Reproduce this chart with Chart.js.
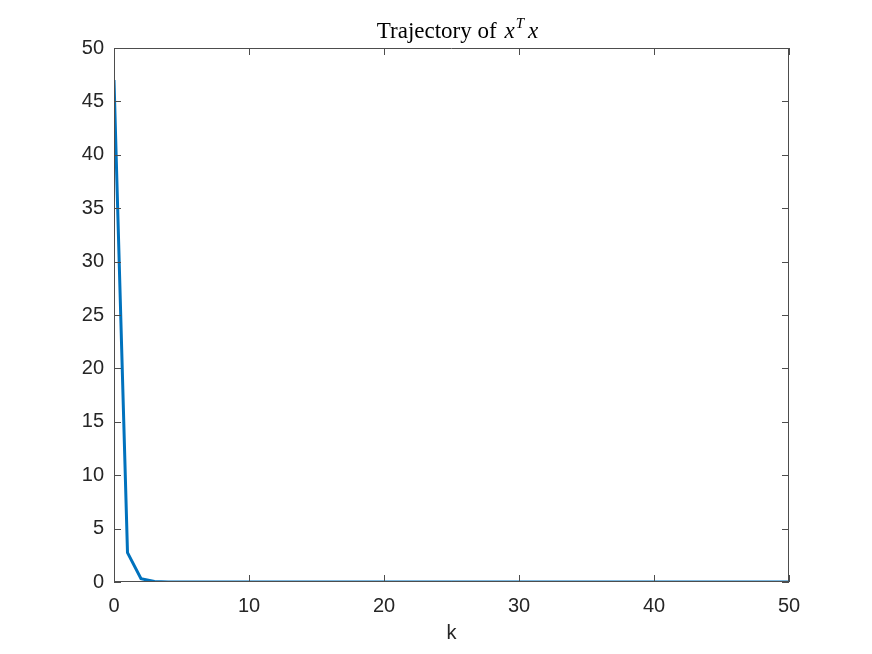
<!DOCTYPE html>
<html>
<head>
<meta charset="utf-8">
<script src="https://cdn.jsdelivr.net/npm/chart.js@4/dist/chart.umd.min.js"></script>
<style>
    html, body { margin: 0; padding: 0; background: #ffffff; }
    #wrap { width: 872px; height: 654px; }
</style>
</head>
<body>
<div id="wrap"><canvas id="chart_xtx" width="872" height="654"></canvas></div>
<script>
"use strict";

// Chart data
const steps = [0, 1, 2, 3, 4, 5, 6, 7, 8, 9, 10, 11, 12, 13, 14, 15, 16, 17, 18, 19, 20,
    21, 22, 23, 24, 25, 26, 27, 28, 29, 30, 31, 32, 33, 34, 35, 36, 37, 38, 39, 40,
    41, 42, 43, 44, 45, 46, 47, 48, 49, 50];
const xtx = [47.0, 2.75, 0.30, 0.04, 0.006, 0.001, 0.0002, 0.00003, 0.000005, 0.000001, 0,
    0, 0, 0, 0, 0, 0, 0, 0, 0, 0,
    0, 0, 0, 0, 0, 0, 0, 0, 0, 0,
    0, 0, 0, 0, 0, 0, 0, 0, 0, 0,
    0, 0, 0, 0, 0, 0, 0, 0, 0, 0];
const xTicks = [0, 10, 20, 30, 40, 50];
const yTicks = [0, 5, 10, 15, 20, 25, 30, 35, 40, 45, 50];

// Define colors
var lineColor = '#0072BD';
var axisColor = '#262626';
var fontFamily = '"Liberation Sans", Arial, Helvetica, sans-serif';

// Box with inward ticks on all four sides, MATLAB style
var boxPlugin = {
    id: 'matlabBox',
    afterDatasetsDraw: function (chart) {
        var c = chart.ctx, a = chart.chartArea;
        var xs = chart.scales.x, ys = chart.scales.y;
        var len = 7;
        c.save();
        c.strokeStyle = '#4d4d4d';
        c.lineWidth = 1;
        c.beginPath();
        c.rect(a.left + 0.5, a.top + 0.5, a.right - a.left - 1, a.bottom - a.top - 1);
        xTicks.forEach(function (v) {
            var px = Math.round(xs.getPixelForValue(v)) + 0.5;
            c.moveTo(px, a.bottom); c.lineTo(px, a.bottom - len);
            c.moveTo(px, a.top); c.lineTo(px, a.top + len);
        });
        yTicks.forEach(function (v) {
            var py = Math.round(ys.getPixelForValue(v)) + 0.5;
            c.moveTo(a.left, py); c.lineTo(a.left + len, py);
            c.moveTo(a.right, py); c.lineTo(a.right - len, py);
        });
        c.stroke();
        c.restore();
    },
    afterDraw: function (chart) {
        // Title "Trajectory of x^T x" with italic math parts
        var c = chart.ctx, a = chart.chartArea;
        var cx = (a.left + a.right) / 2 + 6, base = 38;
        var serif = '"Liberation Serif", "DejaVu Serif", serif';
        var parts = [
            { t: 'Trajectory of ', f: '23px ' + serif, dy: 0, gap: 2 },
            { t: 'x', f: 'italic 23px ' + serif, dy: 0, gap: 1 },
            { t: 'T', f: 'italic 15px ' + serif, dy: -10, gap: 4 },
            { t: 'x', f: 'italic 23px ' + serif, dy: 0, gap: 0 }
        ];
        c.save();
        c.fillStyle = '#000000';
        c.textBaseline = 'alphabetic';
        var total = 0;
        parts.forEach(function (p) { c.font = p.f; p.w = c.measureText(p.t).width + p.gap; total += p.w; });
        var x = cx - total / 2;
        parts.forEach(function (p) {
            c.font = p.f;
            c.fillText(p.t, x, base + p.dy);
            x += p.w;
        });
        c.restore();
    }
};

var ctx = document.getElementById('chart_xtx');

const data = {
    labels: steps,
    datasets: [{
        label: 'x^T x',
        data: steps.map(function (k, i) { return { x: k, y: xtx[i] }; }),
        borderColor: lineColor,
        backgroundColor: lineColor,
        borderWidth: 3,
        pointRadius: 0,
        tension: 0,
        fill: false
    }]
};

const config = {
    type: 'line',
    data: data,
    options: {
        responsive: false,
        animation: false,
        layout: { padding: { left: 0, right: 83, top: 48, bottom: 0 } },
        plugins: {
            legend: { display: false },
            title: { display: false },
            tooltip: { enabled: false }
        },
        scales: {
            x: {
                type: 'linear',
                min: 0,
                max: 50,
                afterBuildTicks: function (scale) { scale.ticks = xTicks.map(function (v) { return { value: v }; }); },
                grid: { display: false, drawTicks: false },
                border: { display: false },
                ticks: { color: axisColor, padding: 12, font: { family: fontFamily, size: 20 }, maxRotation: 0 },
                title: { display: true, text: 'k', color: axisColor, padding: { top: 4, bottom: 9 }, font: { family: fontFamily, size: 20 } },
                afterFit: function (scale) { scale.height = 654 - 582; }
            },
            y: {
                min: 0,
                max: 50,
                afterBuildTicks: function (scale) { scale.ticks = yTicks.map(function (v) { return { value: v }; }); },
                grid: { display: false, drawTicks: false },
                border: { display: false },
                ticks: { color: axisColor, padding: 10, font: { family: fontFamily, size: 20 } },
                afterFit: function (scale) { scale.width = 114; }
            }
        }
    },
    plugins: [boxPlugin]
};

var myChart = new Chart(ctx, config);
</script>
</body>
</html>
